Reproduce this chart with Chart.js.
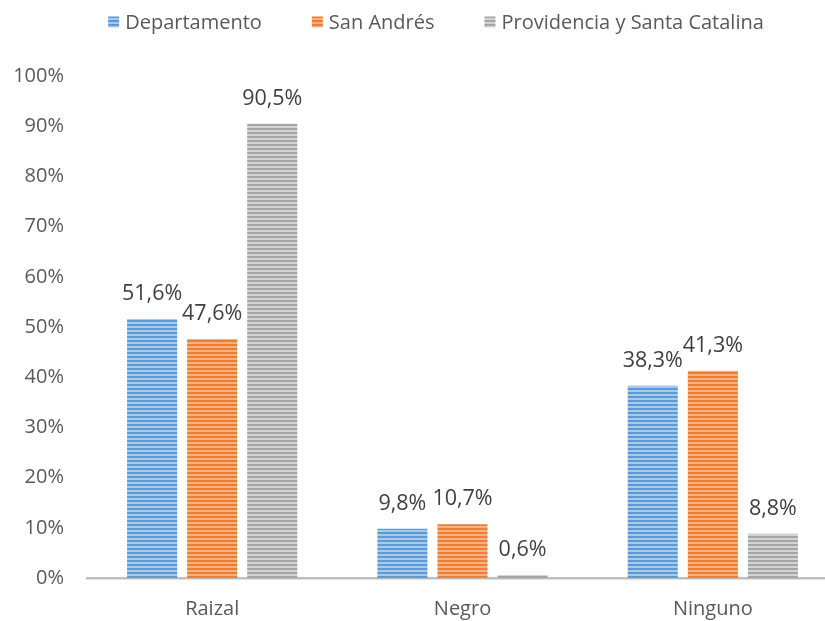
<!DOCTYPE html>
<html>
<head>
<meta charset="utf-8">
<script src="https://cdn.jsdelivr.net/npm/chart.js@4"></script>
<style>
    html, body { margin: 0; padding: 0; background: #fff; overflow: hidden; }
    #outer { width: 825px; height: 621px; overflow: hidden; }
    #wrap { width: 838px; height: 621px; position: relative; }
</style>
</head>
<body>
<div id="outer"><div id="wrap"><canvas id="chart"></canvas></div></div>
<script>
const categories = ['Raizal', 'Negro', 'Ninguno']
const seriesNames = ['Departamento', 'San Andrés', 'Providencia y Santa Catalina']
const departamento = [51.6, 9.8, 38.3]
const sanAndres = [47.6, 10.7, 41.3]
const providencia = [90.5, 0.6, 8.8]
const yTicks = [0, 10, 20, 30, 40, 50, 60, 70, 80, 90, 100]

const FONT = '"Open Sans", "Liberation Sans", sans-serif'

// striped fill like the excel "horizontal lines" pattern
function stripes(dark, light) {
    const c = document.createElement('canvas')
    c.width = 4
    c.height = 4
    const ctx = c.getContext('2d')
    ctx.fillStyle = dark
    ctx.fillRect(0, 0, 4, 4)
    ctx.fillStyle = light
    ctx.fillRect(0, 2, 4, 2)
    return ctx.createPattern(c, 'repeat')
}

const fills = [
    stripes('#5B9BD5', '#A8CAEA'),
    stripes('#ED7D31', '#F5B083'),
    stripes('#A5A5A5', '#D3D3D3')
]

const valueLabels = {
    id: 'valueLabels',
    afterDatasetsDraw(chart) {
        const ctx = chart.ctx
        ctx.save()
        ctx.font = '21.5px ' + FONT
        ctx.fillStyle = '#404040'
        ctx.textAlign = 'center'
        ctx.textBaseline = 'middle'
        chart.data.datasets.forEach((ds, i) => {
            chart.getDatasetMeta(i).data.forEach((bar, j) => {
                const txt = ds.data[j].toFixed(1).replace('.', ',') + '%'
                ctx.fillText(txt, bar.x, bar.y - 25)
            })
        })
        ctx.restore()
    }
}

// legend drawn by hand so it sits close to the top like excel does
const topLegend = {
    id: 'topLegend',
    afterDraw(chart) {
        const ctx = chart.ctx
        const box = 11, gap = 6, spacing = 50
        ctx.save()
        ctx.font = '20px ' + FONT
        ctx.textBaseline = 'middle'
        const items = chart.data.datasets.map(ds => ({ label: ds.label, fill: ds.backgroundColor, w: ctx.measureText(ds.label).width }))
        const total = items.reduce((s, it) => s + box + gap + it.w, 0) + spacing * (items.length - 1)
        let x = 436 - total / 2
        const y = 22
        items.forEach(it => {
            ctx.fillStyle = it.fill
            ctx.fillRect(x, y - box / 2, box, box)
            ctx.fillStyle = '#595959'
            ctx.fillText(it.label, x + box + gap, y + 1)
            x += box + gap + it.w + spacing
        })
        ctx.restore()
    }
}

new Chart(document.getElementById('chart'), {
    type: 'bar',
    data: {
        labels: categories,
        datasets: [departamento, sanAndres, providencia].map((d, i) => ({
            label: seriesNames[i],
            data: d,
            backgroundColor: fills[i],
            borderWidth: 0,
            categoryPercentage: 0.72,
            barPercentage: 0.833
        }))
    },
    options: {
        responsive: true,
        maintainAspectRatio: false,
        animation: false,
        layout: { padding: { left: 0, right: 0, top: 76, bottom: 0 } },
        plugins: {
            legend: { display: false },
            tooltip: { enabled: false }
        },
        scales: {
            x: {
                grid: { display: false },
                border: { display: true, color: '#BFBFBF', width: 2.5 },
                ticks: { color: '#595959', font: { family: FONT, size: 20 }, padding: 11 },
                afterFit: axis => { axis.height = 43 }
            },
            y: {
                min: 0,
                max: 100,
                afterBuildTicks: axis => { axis.ticks = yTicks.map(v => ({ value: v })) },
                afterFit: axis => { axis.width = 87 },
                grid: { display: false },
                border: { display: false },
                ticks: {
                    color: '#595959',
                    font: { family: FONT, size: 20 },
                    padding: 15,
                    callback: v => v + '%'
                }
            }
        }
    },
    plugins: [valueLabels, topLegend]
})
</script>
</body>
</html>
